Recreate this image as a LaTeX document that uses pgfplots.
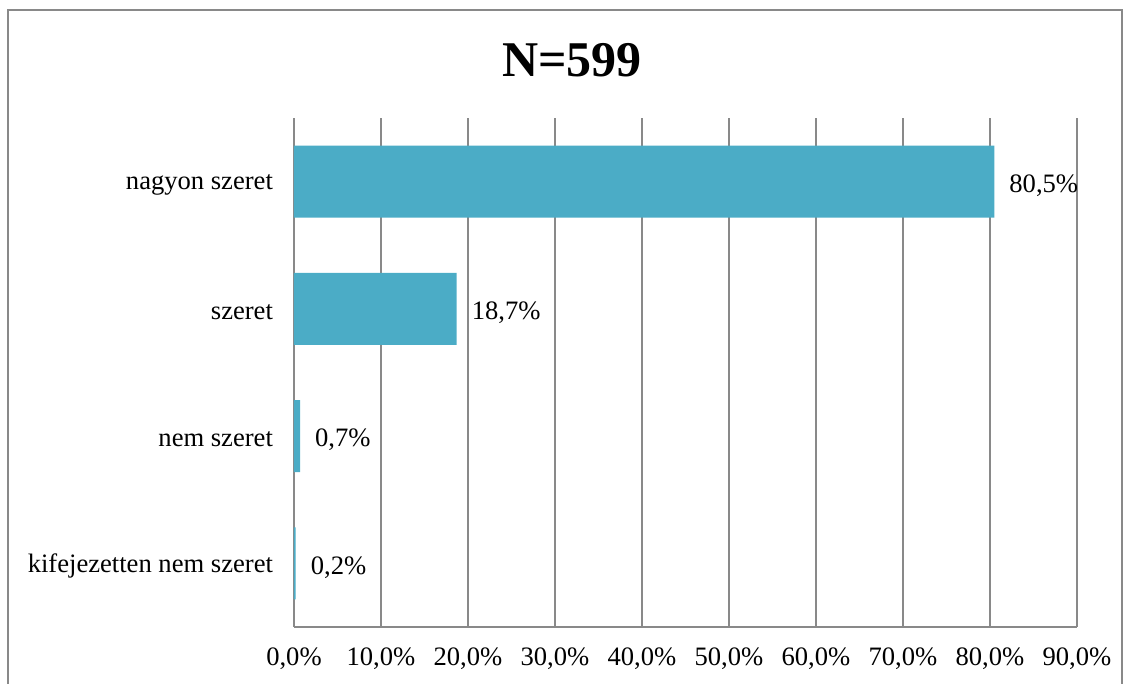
\documentclass[border=0pt]{standalone}
\usepackage{fontspec}
\setmainfont{Liberation Serif}
\usepackage{pgfplots}
\pgfplotsset{compat=1.18}
\definecolor{barc}{HTML}{4BACC6}
\definecolor{gridc}{HTML}{898989}
\begin{document}
\begin{tikzpicture}[x=0.5pt,y=0.5pt]
\path[use as bounding box] (0,0) rectangle (1132,684);
\draw[gridc, line width=1pt] (8,0) -- (8,674) -- (1122,674) -- (1122,0);
\node[font=\bfseries\fontsize{25}{30}\selectfont] at (572,624) {N=599};
\begin{axis}[
  at={(147pt,28.5pt)}, anchor=south west,
  scale only axis, width=391.5pt, height=254.5pt,
  xmin=0, xmax=90, ymin=-0.5, ymax=3.5,
  xbar, bar width=36pt,
  ytick={0,1,2,3},
  yticklabels={kifejezetten nem szeret, nem szeret, szeret, nagyon szeret},
  xtick={0,10,...,90},
  xticklabel={\pgfmathprintnumber[fixed,fixed zerofill,precision=1,use comma]{\tick}\%},
  /pgf/number format/assume math mode=true,
  xmajorgrids, grid style={gridc, line width=1pt},
  axis x line=bottom, axis y line=left,
  axis line style={gridc, line width=1pt, -},
  major tick length=0pt, tick style={draw=none},
  font=\fontsize{13.3}{16}\selectfont,
  xticklabel style={yshift=-7pt},
  yticklabel style={xshift=-7pt, yshift=-1.5pt},
  point meta=explicit symbolic,
  nodes near coords,
  nodes near coords style={anchor=west, xshift=4pt, yshift=-2pt, font=\fontsize{13.3}{16}\selectfont},
]
\addplot[fill=barc, draw=none] coordinates {
  (0.2,0) [0,2\%]
  (0.7,1) [0,7\%]
  (18.7,2) [18,7\%]
  (80.5,3) [80,5\%]
};
\end{axis}
\end{tikzpicture}
\end{document}
